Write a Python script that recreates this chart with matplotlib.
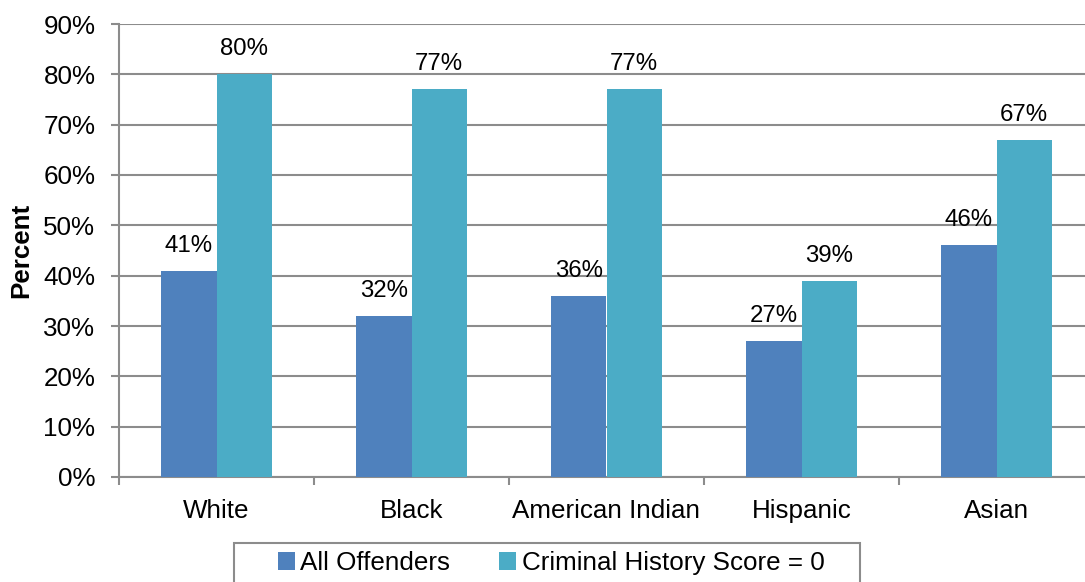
import numpy as np
import matplotlib.pyplot as plt
from matplotlib.ticker import FixedLocator
from matplotlib.patches import Rectangle

plt.rcParams['font.family'] = ['Liberation Sans', 'DejaVu Sans']

categories = ['White', 'Black', 'American Indian', 'Hispanic', 'Asian']
all_offenders = [41, 32, 36, 27, 46]
chs_zero = [80, 77, 77, 39, 67]
series_names = ['All Offenders', 'Criminal History Score = 0']

blue = '#4F81BD'
teal = '#4BACC6'
grid_grey = '#8C8C8C'
fs = 18.7

fig = plt.figure(figsize=(10.85, 5.82), dpi=100)
# axes runs slightly past the right edge, like the original
ax = fig.add_axes([119 / 1085, 105 / 582, 975 / 1085, 453 / 582])

x = np.arange(len(categories))
w = 0.285
b1 = ax.bar(x - w / 2, all_offenders, w, color=blue, label=series_names[0], zorder=3)
b2 = ax.bar(x + w / 2, chs_zero, w, color=teal, label=series_names[1], zorder=3)

for bars, vals in ((b1, all_offenders), (b2, chs_zero)):
    for r, v in zip(bars, vals):
        ax.annotate(f'{v}%', (r.get_x() + r.get_width() / 2, v), xytext=(0, 18),
                    textcoords='offset points', ha='center', va='center', fontsize=17.3)

ax.set_xlim(-0.5, len(categories) - 0.5)
ax.set_ylim(0, 90)
ax.set_yticks(range(0, 91, 10))
ax.set_yticklabels([f'{t}%' for t in range(0, 91, 10)])
ax.yaxis.grid(True, color=grid_grey, linewidth=1.5, zorder=0)

# ticks at category boundaries, labels at centres
ax.xaxis.set_major_locator(FixedLocator(np.arange(-0.5, len(categories), 1.0)))
ax.xaxis.set_minor_locator(FixedLocator(x))
ax.set_xticklabels([''] * (len(categories) + 1))
ax.set_xticklabels(categories, minor=True)
ax.tick_params(axis='x', which='major', length=6, width=1.5, color=grid_grey)
ax.tick_params(axis='x', which='minor', length=0, pad=15.5, labelsize=fs)
ax.tick_params(axis='y', length=6, width=1.5, color=grid_grey, pad=11, labelsize=fs)

for s in ['top', 'right']:
    ax.spines[s].set_visible(False)
for s in ['left', 'bottom']:
    ax.spines[s].set_color(grid_grey)
    ax.spines[s].set_linewidth(1.5)

ax.set_ylabel('Percent', fontsize=fs, fontweight='bold', labelpad=7)

# legend box (bottom edge cut off by the figure edge, as in the original)
fig.patches.append(Rectangle((234 / 1085, -0.05), (860 - 234) / 1085, 39 / 582 + 0.05,
                             transform=fig.transFigure, fill=False,
                             edgecolor=grid_grey, linewidth=1.5))
leg = ax.legend(loc='center', bbox_to_anchor=(551 / 1085, 19 / 582),
                bbox_transform=fig.transFigure, ncol=2, fontsize=fs, frameon=False,
                borderaxespad=0, handlelength=0.66, handleheight=0.66,
                handletextpad=0.2, columnspacing=1.9, borderpad=0)

fig.savefig('out.png', dpi=100)
